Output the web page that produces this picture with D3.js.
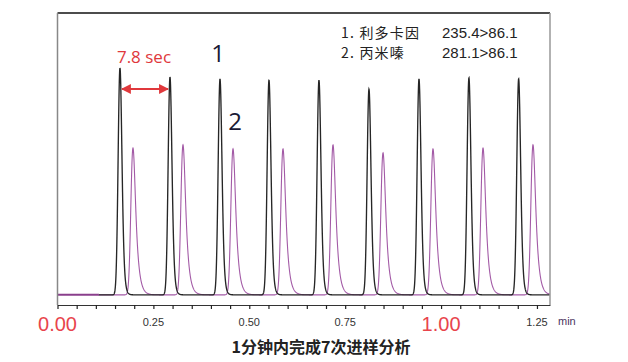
<!DOCTYPE html>
<html><head><meta charset="utf-8">
<script src="https://cdn.jsdelivr.net/npm/d3@7/dist/d3.min.js"></script>
<style>body{margin:0;background:#fff}svg{display:block}</style>
</head><body>
<svg id="c" width="628" height="362"></svg>
<script>
// ---- data ----
const peak1Times   = [0.1629, 0.2933, 0.4237, 0.5514, 0.6817, 0.8121, 0.9425, 1.0727, 1.2023]; // min
const peak1Heights = [80.5, 77.3, 76.6, 76.2, 76.2, 73.0, 76.6, 77.0, 76.6];
const peak2Times   = [0.1968, 0.3272, 0.4576, 0.5879, 0.7183, 0.8487, 0.9790, 1.1094, 1.2397];
const peak2Heights = [52.1, 53.2, 51.8, 51.8, 53.2, 50.4, 51.8, 52.1, 53.2];
const tickValues   = d3.range(0, 26).map(i => +(i * 0.05).toFixed(2));
const tickLabels   = [0, 0.25, 0.5, 0.75, 1.0, 1.25];
const bigLabels    = [0, 1.0];
const legendNames  = ["1. 利多卡因", "2. 丙米嗪"];
const legendMRM    = ["235.4>86.1", "281.1>86.1"];
const intervalText = "7.8 sec";
const title        = "1分钟内完成7次进样分析";

const svg = d3.select("#c");
const L = 57.5, R = 550, T = 13, B = 305;
const x = d3.scaleLinear().domain([0, 1.284]).range([L, R]);
const y = d3.scaleLinear().domain([-3.6, 100]).range([B, T]);

// erfc approximation
function erfc(z){
  const t = 1/(1+0.5*Math.abs(z));
  const r = t*Math.exp(-z*z-1.26551223+t*(1.00002368+t*(0.37409196+t*(0.09678418+t*(-0.18628806+t*(0.27886807+t*(-1.13520398+t*(1.48851587+t*(-0.82215223+t*0.17087277)))))))));
  return z>=0 ? r : 2-r;
}
function emg(dt, s, tau){
  return Math.exp(s*s/(2*tau*tau) - dt/tau) * erfc((s/tau - dt/s)/Math.SQRT2) / 2;
}
function makeShape(s, tau){
  let best = 0, off = 0;
  for (let d = -0.02; d <= 0.03; d += 0.00005){ const v = emg(d, s, tau); if (v > best){best = v; off = d;} }
  return dt => { const d = dt + off; if (d < -0.06 || d > 0.12) return 0; return emg(d, s, tau)/best; };
}
const shape1 = makeShape(0.0043, 0.0035);
const shape2 = makeShape(0.0045, 0.0075);

const ts = d3.range(0, 1.284, 0.0004);
const trace = (times, heights, shape) => ts.map(t => {
  let v = 0;
  times.forEach((m, i) => { v += heights[i] * shape(t - m); });
  return [t, v];
});
const tr1 = trace(peak1Times, peak1Heights, shape1);
const tr2 = trace(peak2Times, peak2Heights, shape2);

const line = d3.line().x(d => x(d[0])).y(d => y(d[1]));
const startT = 0.107;

svg.append("path").datum(tr2.filter(d => d[0] >= startT)).attr("d", line)
  .attr("fill", "none").attr("stroke", "#a35aa6").attr("stroke-width", 1.1);
svg.append("path").datum(tr1.filter(d => d[0] >= startT)).attr("d", line)
  .attr("fill", "none").attr("stroke", "#262626").attr("stroke-width", 1.35);
svg.append("path").datum(tr2.filter(d => d[0] <= startT + 0.001)).attr("d", line)
  .attr("fill", "none").attr("stroke", "#8a3f8c").attr("stroke-width", 2);

// frame
svg.append("line").attr("x1", L).attr("x2", R).attr("y1", T).attr("y2", T).attr("stroke", "#111").attr("stroke-width", 1.5);
svg.append("line").attr("x1", L).attr("x2", L).attr("y1", T).attr("y2", B).attr("stroke", "#888").attr("stroke-width", 1.5);
svg.append("line").attr("x1", R).attr("x2", R).attr("y1", T).attr("y2", B).attr("stroke", "#999").attr("stroke-width", 1.5);

// axis
const ax = svg.append("g").attr("transform", `translate(0,${B})`)
  .call(d3.axisBottom(x).tickValues(tickValues).tickSize(4).tickSizeOuter(0).tickFormat(""));
ax.select(".domain").attr("stroke", "#333").attr("stroke-width", 1.2);
ax.selectAll(".tick line").attr("stroke", "#222").attr("stroke-width", 1.2);

svg.append("g").selectAll("text").data(tickLabels).join("text")
  .attr("x", d => x(d)).attr("y", d => bigLabels.includes(d) ? 331 : 325.5)
  .attr("text-anchor", "middle")
  .attr("font-family", "Liberation Sans, Arial, sans-serif")
  .attr("font-size", d => bigLabels.includes(d) ? 20 : 11)
  .attr("fill", d => bigLabels.includes(d) ? "#e8444c" : "#333")
  .text(d => d.toFixed(2));
svg.append("text").attr("x", 558).attr("y", 325).attr("font-family", "Liberation Sans, Arial, sans-serif")
  .attr("font-size", 11).attr("fill", "#4b3560").text("min");

svg.append("text").attr("x", 321).attr("y", 353).attr("text-anchor", "middle")
  .attr("font-family", "Noto Sans CJK SC, sans-serif").attr("font-weight", "bold")
  .attr("font-size", 16).attr("fill", "#222").text(title);

// legend
legendNames.forEach((n, i) => {
  svg.append("text").attr("x", 341).attr("y", 37.5 + i*20.5).attr("font-family", "Noto Sans CJK SC, sans-serif")
    .attr("font-size", 14).attr("letter-spacing", 1.2).attr("fill", "#222").text(n);
  svg.append("text").attr("x", 442).attr("y", 37.5 + i*20.5).attr("font-family", "Liberation Sans, Arial, sans-serif")
    .attr("font-size", 15).attr("fill", "#222").text(legendMRM[i]);
});

// peak labels
svg.append("text").attr("x", x(peak1Times[2]) - 2).attr("y", 62).attr("text-anchor", "middle")
  .attr("font-family", "Open Sans, sans-serif").attr("font-size", 24).attr("fill", "#1a1a35").text("1");
svg.append("text").attr("x", x(peak2Times[2]) + 2).attr("y", 130).attr("text-anchor", "middle")
  .attr("font-family", "Open Sans, sans-serif").attr("font-size", 24).attr("fill", "#1a1a35").text("2");

// interval arrow
const red = "#e0383c";
const defs = svg.append("defs");
defs.append("marker").attr("id", "ah").attr("viewBox", "0 0 10 10").attr("refX", 9).attr("refY", 5)
  .attr("markerWidth", 4.5).attr("markerHeight", 4.5).attr("orient", "auto-start-reverse")
  .append("path").attr("d", "M0,0L10,5L0,10z").attr("fill", red);
const ay = 89;
svg.append("line").attr("x1", x(peak1Times[0]) + 2).attr("x2", x(peak1Times[1]) - 2)
  .attr("y1", ay).attr("y2", ay).attr("stroke", red).attr("stroke-width", 2.2)
  .attr("marker-start", "url(#ah)").attr("marker-end", "url(#ah)");
svg.append("text").attr("x", (x(peak1Times[0]) + x(peak1Times[1]))/2 - 1).attr("y", 63).attr("text-anchor", "middle")
  .attr("font-family", "Open Sans, sans-serif").attr("font-size", 17).attr("fill", red).text(intervalText);
</script>
</body></html>
